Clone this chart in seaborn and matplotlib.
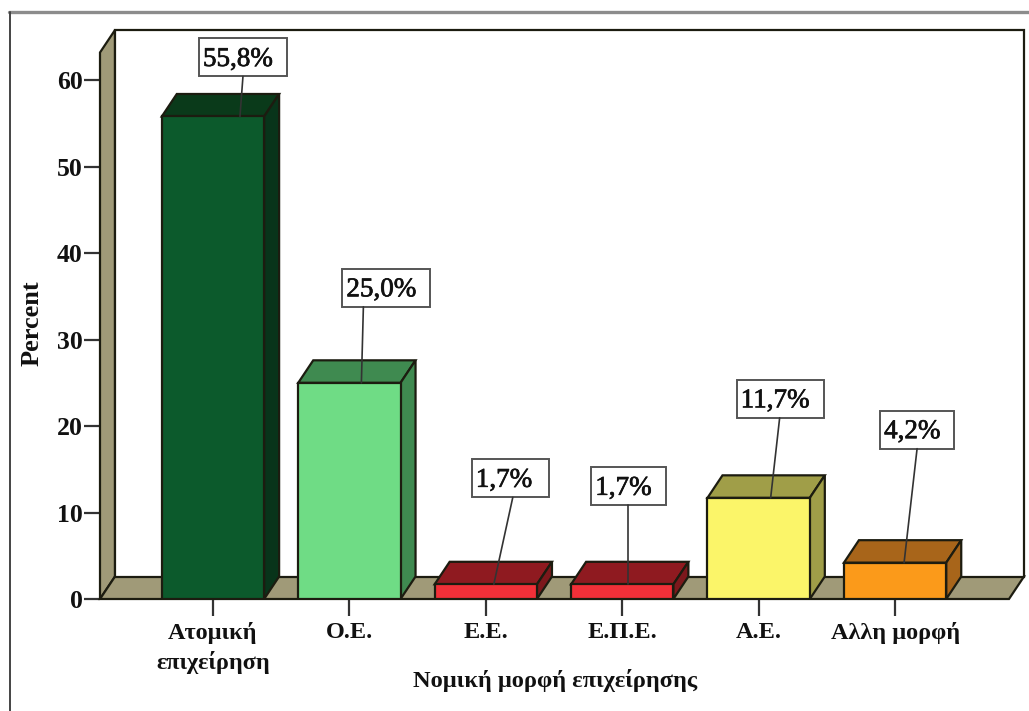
import matplotlib
matplotlib.use("Agg")
import matplotlib.pyplot as plt
import matplotlib.patheffects as pe
import seaborn as sns
from matplotlib.lines import Line2D
from matplotlib.patches import Polygon, Rectangle
from matplotlib.transforms import IdentityTransform

# data
categories = ["Ατομική\nεπιχείρηση", "Ο.Ε.", "Ε.Ε.", "Ε.Π.Ε.", "Α.Ε.", "Αλλη μορφή"]
percent = [55.8, 25.0, 1.7, 1.7, 11.7, 4.2]
labels = ["55,8%", "25,0%", "1,7%", "1,7%", "11,7%", "4,2%"]

# front, and the darker top / side of each bar
front_colors = ["#0c5a2c", "#6fdc85", "#f23038", "#f23038", "#fbf569", "#fb9a1a"]
top_colors = ["#0a3a1a", "#3f8a50", "#8f1a20", "#8f1a20", "#a09e48", "#a8651a"]
side_colors = ["#08341a", "#3f8a50", "#7c181c", "#7c181c", "#a09e48", "#a8651a"]
wall_color = "#a09a78"
line_color = "#1c1c10"

W, H = 1029, 711
LEFT, RIGHT, TOP, BOTTOM = 100, 1024, 30, 599   # axes box in pixels
DEPTH_X, DEPTH_Y = 15 / 136.4, 22.5 / 8.65      # 3d offset in data units
FONT = ["Liberation Serif", "DejaVu Serif"]

sns.set_theme(style="white")
plt.rcParams["font.family"] = FONT

fig = plt.figure(figsize=(W / 100, H / 100), dpi=100, facecolor="white")
ax = fig.add_axes([LEFT / W, 1 - BOTTOM / H, (RIGHT - LEFT) / W, (BOTTOM - TOP) / H])
ax.patch.set_alpha(0)

sns.barplot(x=categories, y=percent, hue=categories, palette=front_colors, width=0.75, saturation=1,
            dodge=False, legend=False, edgecolor=line_color, linewidth=1.6, zorder=5, ax=ax)

ax.set_xlim(-0.828, 5.945)
ax.set_ylim(0, 65.8)
xmin, xmax = ax.get_xlim()
ymax = ax.get_ylim()[1]

# walls and floor
wall_style = dict(edgecolor=line_color, linewidth=1.6, clip_on=False, zorder=1)
ax.add_patch(Polygon([(xmin, 0), (xmin + DEPTH_X, DEPTH_Y), (xmin + DEPTH_X, ymax),
                      (xmin, ymax - DEPTH_Y)], facecolor=wall_color, **wall_style))
ax.add_patch(Polygon([(xmin, 0), (xmax - DEPTH_X, 0), (xmax, DEPTH_Y),
                      (xmin + DEPTH_X, DEPTH_Y)], facecolor=wall_color, **wall_style))
ax.add_patch(Polygon([(xmin + DEPTH_X, DEPTH_Y), (xmax, DEPTH_Y), (xmax, ymax),
                      (xmin + DEPTH_X, ymax)], facecolor="white", **wall_style))

# top and side faces of the bars
bar_style = dict(edgecolor=line_color, linewidth=1.6, zorder=4)
for bar, top_c, side_c in zip(ax.patches[:len(percent)], top_colors, side_colors):
    x0, x1, v = bar.get_x(), bar.get_x() + bar.get_width(), bar.get_height()
    ax.add_patch(Polygon([(x0, v), (x1, v), (x1 + DEPTH_X, v + DEPTH_Y), (x0 + DEPTH_X, v + DEPTH_Y)],
                         facecolor=top_c, **bar_style))
    ax.add_patch(Polygon([(x1, 0), (x1 + DEPTH_X, DEPTH_Y), (x1 + DEPTH_X, v + DEPTH_Y), (x1, v)],
                         facecolor=side_c, **bar_style))

# label boxes, all in pixels relative to the top centre of the bar
box_left = [-14, -7, -14, -31, -22, -15]
box_gap = [40, 76, 87, 79, 80, 114]
box_width = [88, 88, 77, 75, 87, 74]
box_height = 38
leader_start = [44, 21, 41, 37, 43, 37]
leader_end = [27, 12, 8, 6, 12, 9]
px = IdentityTransform()
for i, (v, txt) in enumerate(zip(percent, labels)):
    cx, cy = ax.transData.transform((i, v))
    bx, by = cx + box_left[i], cy + box_gap[i]
    ax.add_patch(Rectangle((bx, by), box_width[i], box_height, transform=px, facecolor="white",
                           edgecolor="#555555", linewidth=1.4, clip_on=False, zorder=8))
    ax.add_line(Line2D([bx + leader_start[i], cx + leader_end[i]], [by, cy], transform=px,
                       color="#333333", linewidth=1.2, clip_on=False, zorder=8))
    ax.text(bx + 4, by + box_height / 2 - 2, txt, transform=px, ha="left", va="center",
            fontsize=19.5, color="#111111", zorder=9,
            path_effects=[pe.withStroke(linewidth=0.5, foreground="#111111")])

ax.set_yticks(range(0, 61, 10))
ax.tick_params(axis="y", length=11.5, width=1.6, color="#333333", labelsize=18.5, pad=1, left=True)
ax.tick_params(axis="x", length=12.5, width=1.6, color="#333333", labelsize=17.5, pad=4, bottom=True)
for lab in ax.get_xticklabels() + ax.get_yticklabels():
    lab.set_fontweight("bold")
    lab.set_color("#111111")
    lab.set_linespacing(1.42)

sns.despine(ax=ax, left=True, bottom=True, top=True, right=True)
ax.set_xlabel("Νομική μορφή επιχείρησης", fontsize=17.6, fontweight="bold", color="#111111")
ax.set_ylabel("Percent", fontsize=19, fontweight="bold", color="#111111")
ax.xaxis.set_label_coords(0.492, -0.123)
ax.yaxis.set_label_coords(-0.061, 0.485)

# the picture only keeps the top and left edge of its outer frame
fig.add_artist(Line2D([9 / W, 1], [1 - 12 / H, 1 - 12 / H], transform=fig.transFigure,
                      color="#8c8c8c", linewidth=2.4))
fig.add_artist(Line2D([9.5 / W, 9.5 / W], [0, 1 - 12 / H], transform=fig.transFigure,
                      color="#444444", linewidth=1.4))

fig.savefig("out.png", dpi=100)
